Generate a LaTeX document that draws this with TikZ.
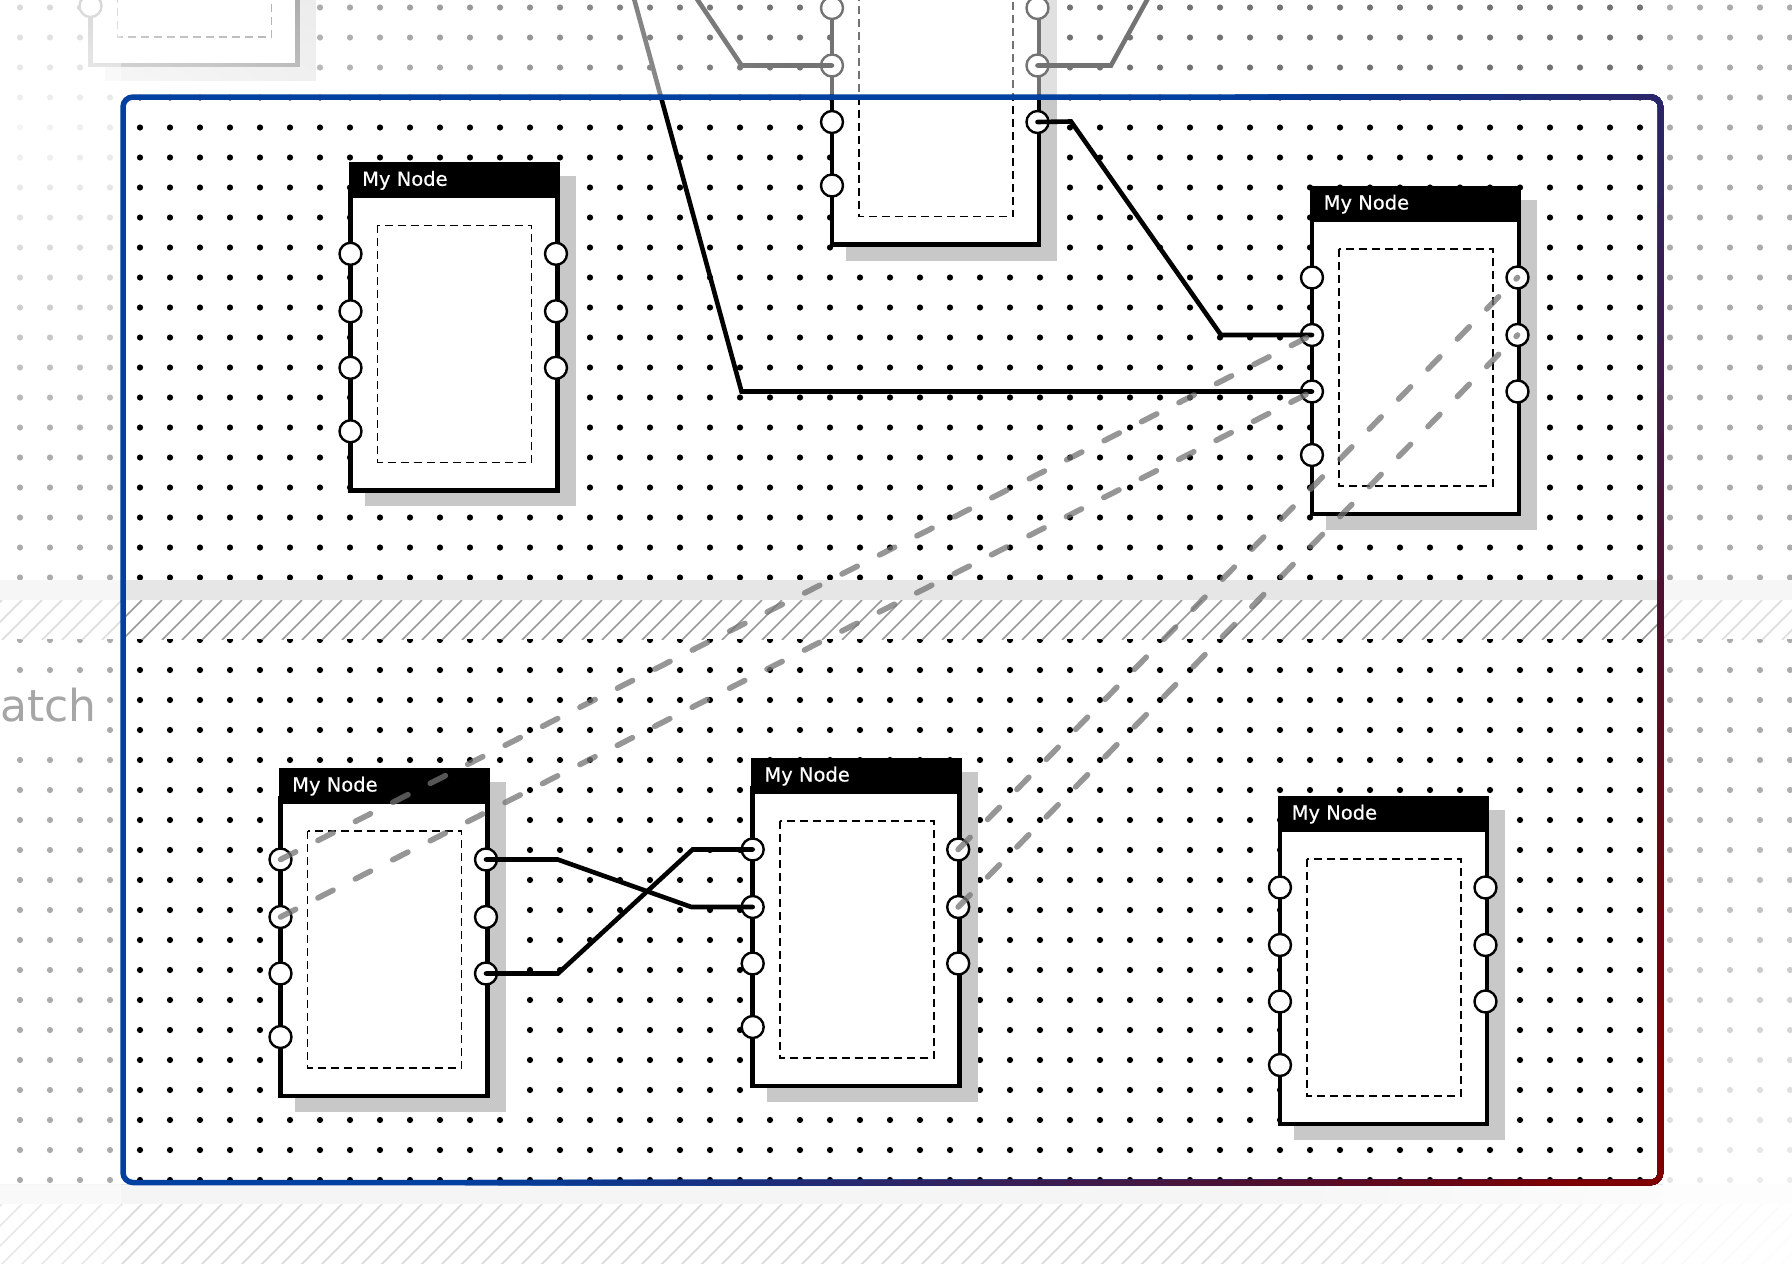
\documentclass[tikz,border=0pt]{standalone}
\usepackage{fontspec}
\setmainfont{DejaVu Sans}
\newfontfamily\hdrfont[FakeBold=0.6]{DejaVu Sans}
\usetikzlibrary{fadings}
\definecolor{shadowgray}{RGB}{200,200,200}
\definecolor{bandgray}{RGB}{230,230,230}
\definecolor{hatchgray}{RGB}{154,154,154}
\definecolor{wiregray}{RGB}{115,115,115}
\definecolor{txtgray}{RGB}{166,166,166}
\definecolor{fblue}{RGB}{0,64,160}
\tikzfading[name=radfade, inner color=transparent!0, outer color=transparent!100]
\tikzset{
  port/.style={circle, draw=black, fill=white, line width=2.4pt, inner sep=0pt, minimum size=22pt},
  hdr/.style={text=white, font=\hdrfont\fontsize{19.5}{22}\selectfont, inner sep=0pt},
  innerdash/.style={line width=1.6pt, dash pattern=on 8pt off 5pt},
  nodebody/.style={line width=4.6pt, draw=black, fill=white},
  wire/.style={line width=4.6pt, draw=black, line cap=round},
  dwire/.style={line width=5.6pt, draw=wiregray, draw opacity=0.75, dash pattern=on 17pt off 25pt, line cap=round},
  hatchline/.style={hatchgray, line width=1.7pt},
  framestroke/.style={line width=5.5pt, rounded corners=10pt},
}
% #1 name, #2 X, #3 Y, #4 title shown (1) or not (0)
\newcommand{\mynode}[4]{%
  \fill[shadowgray] ({#2+16},{#3+14}) rectangle ({#2+227},{#3+344});
  \draw[nodebody] ({#2+2},{#3+30}) rectangle ({#2+209},{#3+328});
  \fill[black] (#2,#3) rectangle ({#2+211},{#3+36});
  \ifnum#4=1 \node[hdr, anchor=base west] (#1-title) at ({#2+13.5},{#3+23.5}) {My Node};\fi
  \draw[innerdash] ({#2+29},{#3+63}) rectangle ({#2+183},{#3+300});
  \foreach \k/\dy in {1/91.5,2/149,3/205.5,4/269} {\node[port] (#1-l\k) at ({#2+2},{#3+\dy}) {};}
  \foreach \k/\dy in {1/91.5,2/149,3/205.5} {\node[port] (#1-r\k) at ({#2+207.5},{#3+\dy}) {};}
}
\begin{document}
\begin{tikzpicture}[x=1pt,y=-1pt]
\useasboundingbox (0,0) rectangle (1792,1264);
\fill[white] (0,0) rectangle (1792,1264);
% dot grid
\fill[black] \foreach \i in {0,...,59} { \foreach \j in {0,...,19} { (20+30*\i, 7.5+30*\j) circle (3.1) } };
\fill[black] \foreach \i in {0,...,59} { \foreach \j in {0,...,18} { (20+30*\i, 640+30*\j) circle (3.1) } };
% middle band
\fill[bandgray] (0,580) rectangle (1792,600);
\fill[white] (0,600) rectangle (1792,639);
\begin{scope}
  \clip (0,600) rectangle (1792,639);
  \foreach \k in {-3,...,90} {\draw[hatchline] (2+20*\k,640) -- (42+20*\k,600);}
\end{scope}
% bottom band
\fill[bandgray] (0,1184) rectangle (1792,1204);
\fill[white] (0,1204) rectangle (1792,1264);
\begin{scope}
  \clip (0,1204) rectangle (1792,1264);
  \foreach \k in {-5,...,90} {\draw[hatchline] (2+20*\k,1284) -- (82+20*\k,1204);}
\end{scope}
% nodes
\mynode{G}{88.5}{-263}{0}
\mynode{C}{830}{-83.5}{0}
\mynode{A}{348.5}{162.3}{1}
\mynode{B}{1310}{186}{1}
\mynode{D}{278.5}{768}{1}
\mynode{E}{750.7}{758}{1}
\mynode{F}{1278}{796}{1}
% free ends above the picture
\coordinate (topA) at (626.2,-30);
\coordinate (topB) at (677.5,-30);
\coordinate (topC) at (1163.5,-30);
% solid wires
\draw[wire] (C-r3.center) -- (1071,121.5) -- (1221,335) -- (B-l2.center);
\draw[wire] (topA) -- (741.5,391.5) -- (B-l3.center);
\draw[wire] (C-l2.center) -- (741.6,65.5) -- (topB);
\draw[wire] (C-r2.center) -- (1111,65.5) -- (topC);
\draw[wire] (D-r1.center) -- (557.7,859.5) -- (691.4,907) -- (E-l2.center);
\draw[wire] (D-r3.center) -- (558,973.5) -- (692.6,849.5) -- (E-l1.center);
% dashed wires
\draw[dwire] (D-l1.center) -- (B-l2.center);
\draw[dwire] (D-l2.center) -- (B-l3.center);
\draw[dwire] (E-r1.center) -- (B-r1.center);
\draw[dwire] (E-r2.center) -- (B-r2.center);
% fading outside the frame
\begin{scope}
  \clip (0,0) rectangle (1792,94.5) (0,0) rectangle (120.5,1264) (1663,0) rectangle (1792,1264) (0,1185) rectangle (1792,1264);
  \fill[white, fill opacity=0.45] (0,0) rectangle (1792,1264);
  \fill[white, fill opacity=0.4] (0,0) rectangle (120.5,1264);
  \fill[white, fill opacity=0.4] (1663,0) rectangle (1792,1264);
  \fill[white, fill opacity=0.35] (0,1185) rectangle (1792,1264);
  \fill[white, fill opacity=0.9, path fading=radfade] (-800,-200) rectangle (800,460);
  \fill[white, fill opacity=0.95, path fading=radfade] (1192,764) rectangle (2392,1764);
\end{scope}
% label at the left
\fill[white] (0,683) rectangle (96,745);
\node[anchor=base west, inner sep=0pt, text=txtgray, font=\fontsize{44}{50}\selectfont] (lbl) at (0,721) {atch};
% frame with colour gradient
\draw[fblue, framestroke] (123,97) rectangle (1660.5,1182.5);
\foreach \i in {1,...,34} {
  \pgfmathsetmacro\gs{\i*0.025}
  \pgfmathsetmacro\gdist{\gs*1089}
  \pgfmathtruncatemacro\colR{max(0,min(255,ifthenelse(\gs<=0.3,40*\gs/0.3,ifthenelse(\gs<=0.6,40+40*(\gs-0.3)/0.3,80+48*(\gs-0.6)/0.25))))}
  \pgfmathtruncatemacro\colG{max(0,min(255,ifthenelse(\gs<=0.3,64-24*\gs/0.3,ifthenelse(\gs<=0.6,40-24*(\gs-0.3)/0.3,16-16*(\gs-0.6)/0.25))))}
  \pgfmathtruncatemacro\colB{max(0,min(255,ifthenelse(\gs<=0.3,160-48*\gs/0.3,ifthenelse(\gs<=0.6,112-64*(\gs-0.3)/0.3,48-48*(\gs-0.6)/0.25))))}
  \definecolor{fc}{RGB}{\colR,\colG,\colB}
  \begin{scope}
    \clip ({2931+0.817*\gdist},{-2354+0.577*\gdist}) -- ({-531+0.817*\gdist},{2548+0.577*\gdist}) -- ({2737+0.817*\gdist},{4856+0.577*\gdist}) -- ({6199+0.817*\gdist},{-46+0.577*\gdist}) -- cycle;
    \draw[fc, framestroke] (123,97) rectangle (1660.5,1182.5);
  \end{scope}
}
\end{tikzpicture}
\end{document}
